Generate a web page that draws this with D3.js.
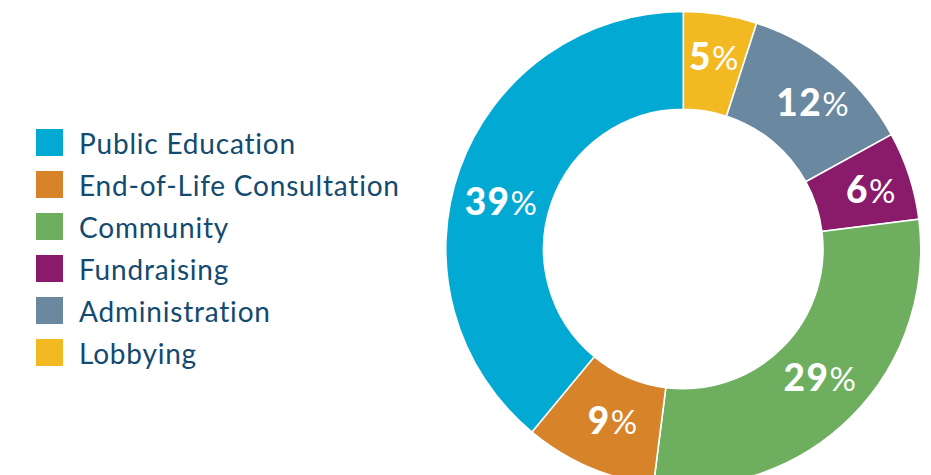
<!DOCTYPE html>
<html>
<head>
<meta charset="utf-8">
<script src="https://cdn.jsdelivr.net/npm/d3@7"></script>
<style>
  html, body { margin: 0; padding: 0; background: #ffffff; }
  svg { display: block; }
</style>
</head>
<body>
<svg id="chart" width="931" height="475"></svg>
<script>
// ---- data ----
const categories = ["Public Education", "End-of-Life Consultation", "Community", "Fundraising", "Administration", "Lobbying"];
const values = [39, 9, 29, 6, 12, 5];
const colors = ["#02a9d3", "#d6832a", "#6daf5f", "#8a1b6b", "#6a889f", "#f2b923"];
// order in which slices are drawn clockwise from 12 o'clock
const sliceOrder = ["Lobbying", "Administration", "Fundraising", "Community", "End-of-Life Consultation", "Public Education"];

// ---- layout ----
const W = 931, H = 475;
const cx = 683.3, cy = 249, outerR = 237.5, innerR = 139.7;
// small nudges of label positions from arc centroids (layout only)
const labelNudge = {
  "Lobbying": [1, -6], "Administration": [9, -1], "Fundraising": [8, -1],
  "Community": [3, -4], "End-of-Life Consultation": [4, -1], "Public Education": [-5, 17]
};
const textColor = "#134a70";

const svg = d3.select("#chart");
const color = d3.scaleOrdinal().domain(categories).range(colors);

const rows = categories.map((c, i) => ({ name: c, value: values[i] }));
const ordered = sliceOrder.map(n => rows.find(r => r.name === n));

const pie = d3.pie().value(d => d.value).sort(null);
const arc = d3.arc().innerRadius(innerR).outerRadius(outerR);
const labelArc = d3.arc().innerRadius((innerR + outerR) / 2).outerRadius((innerR + outerR) / 2);

const g = svg.append("g").attr("transform", `translate(${cx},${cy})`);
const arcs = pie(ordered);

g.selectAll("path.slice").data(arcs).join("path")
  .attr("class", "slice")
  .attr("d", arc)
  .attr("fill", d => color(d.data.name))
  .attr("stroke", "#ffffff")
  .attr("stroke-width", 1.6);

const labels = g.selectAll("text.pct").data(arcs).join("text")
  .attr("class", "pct")
  .attr("text-anchor", "middle")
  .attr("fill", "#ffffff")
  .attr("font-family", "Lato, 'Open Sans', sans-serif")
  .attr("transform", d => {
    const [x, y] = labelArc.centroid(d);
    const [dx, dy] = labelNudge[d.data.name];
    return `translate(${x + dx},${y + dy + 13})`;
  });
labels.append("tspan")
  .attr("font-size", 37).attr("font-weight", 900)
  .attr("letter-spacing", 1.5)
  .text(d => d.data.value);
labels.append("tspan")
  .attr("font-size", 33).attr("font-weight", 400)
  .attr("dx", 0)
  .text("%");

// ---- legend ----
const legend = svg.append("g");
const legY = d3.scalePoint().domain(categories).range([129, 339]);
const item = legend.selectAll("g.item").data(rows).join("g")
  .attr("class", "item")
  .attr("transform", d => `translate(36,${legY(d.name)})`);
item.append("rect")
  .attr("width", 27).attr("height", 27)
  .attr("fill", d => color(d.name));
item.append("text")
  .attr("x", 43).attr("y", 25)
  .attr("fill", textColor)
  .attr("font-family", "Lato, 'Open Sans', sans-serif")
  .attr("font-size", 28)
  .attr("letter-spacing", 0.8)
  .text(d => d.name);
</script>
</body>
</html>
